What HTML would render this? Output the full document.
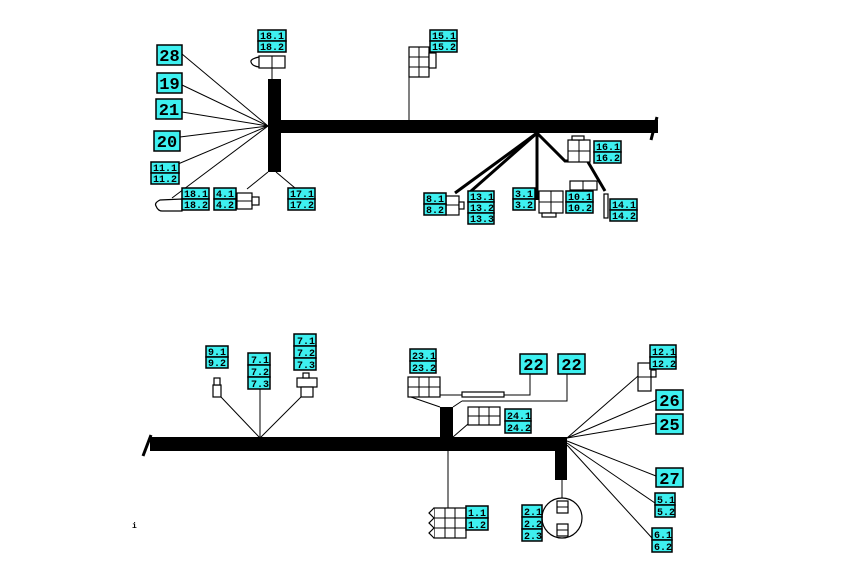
<!DOCTYPE html>
<html><head><meta charset="utf-8"><style>
body{margin:0;background:#fff}
svg text{font-family:"Liberation Mono","DejaVu Sans Mono",monospace;font-weight:bold;fill:#000}
.l{fill:#3ef0f0;stroke:#000;stroke-width:1.5}
.c{fill:#fff;stroke:#000;stroke-width:1.2}
</style></head><body>
<svg width="850" height="580" viewBox="0 0 850 580" xmlns="http://www.w3.org/2000/svg">
<defs>
<g id="d"></g>
</defs>
<!-- TOP HARNESS -->
<rect x="268" y="79" width="13" height="93" fill="#000"/>
<rect x="281" y="120" width="377" height="13" fill="#000"/>
<line x1="657" y1="117" x2="651" y2="140" stroke="#000" stroke-width="3"/>
<g stroke="#000" stroke-width="1" fill="none">
<line x1="268" y1="126" x2="182" y2="54"/>
<line x1="268" y1="126" x2="182" y2="85"/>
<line x1="268" y1="126" x2="182" y2="112"/>
<line x1="268" y1="126" x2="180" y2="137"/>
<line x1="268" y1="126" x2="178" y2="164"/>
<line x1="268" y1="126" x2="172" y2="198"/>
<line x1="272" y1="68" x2="272" y2="79"/>
<line x1="268" y1="172" x2="247" y2="189"/>
<line x1="276" y1="172" x2="295" y2="188"/>
<line x1="409" y1="77" x2="409" y2="120"/>
</g>
<g stroke="#000" stroke-width="3" fill="none">
<line x1="537" y1="133" x2="455" y2="193"/>
<line x1="537" y1="133" x2="470" y2="192"/>
<line x1="537" y1="133" x2="537" y2="200"/>
<polyline points="537,133 565,161 568,161"/>
<polyline points="588,162 605,191"/>
</g>
<!-- top connectors -->
<path d="M259,57 Q250,59 251,62 Q252,66 259,67" class="c"/>
<rect x="259" y="56" width="26" height="12" class="c"/><line x1="272" y1="56" x2="272" y2="68" stroke="#000"/>
<path d="M160,200 Q154,203 156,206 Q158,211 162,211 L182,211 L182,199 Z" class="c"/>
<rect x="237" y="193" width="15" height="16" class="c"/><line x1="237" y1="201" x2="252" y2="201" stroke="#000"/>
<rect x="252" y="197" width="7" height="8" class="c"/>
<rect x="409" y="47" width="20" height="30" class="c"/>
<path d="M419,47V77M409,57H429M409,67H429" stroke="#000"/>
<rect x="429" y="53" width="7" height="15" class="c"/>
<rect x="446" y="196" width="13" height="19" class="c"/><line x1="446" y1="205" x2="459" y2="205" stroke="#000"/>
<rect x="459" y="202" width="5" height="7" class="c"/>
<rect x="539" y="191" width="24" height="22" class="c"/><path d="M551,191V213M539,202H563" stroke="#000"/>
<rect x="542" y="213" width="14" height="4" class="c"/>
<rect x="568" y="140" width="22" height="22" class="c"/><path d="M579,140V162M568,151H590" stroke="#000"/>
<rect x="572" y="136" width="12" height="4" class="c"/>
<rect x="570" y="181" width="27" height="9" class="c"/><line x1="583" y1="181" x2="583" y2="190" stroke="#000"/>
<rect x="604" y="194" width="4" height="24" class="c"/>
<!-- top labels -->
<rect x="157" y="45" width="25" height="20" class="l"/><text x="169.5" y="61" font-size="17" text-anchor="middle">28</text>
<rect x="157" y="73" width="25" height="20" class="l"/><text x="169.5" y="89" font-size="17" text-anchor="middle">19</text>
<rect x="156" y="99" width="26" height="20" class="l"/><text x="169" y="115" font-size="17" text-anchor="middle">21</text>
<rect x="154" y="131" width="26" height="20" class="l"/><text x="167" y="147" font-size="17" text-anchor="middle">20</text>
<g font-size="10">
<rect x="151" y="162" width="28" height="11" class="l"/><rect x="151" y="173" width="28" height="11" class="l"/><text x="153" y="171">11.1</text><text x="153" y="182">11.2</text>
<rect x="258" y="30" width="28" height="11" class="l"/><rect x="258" y="41" width="28" height="11" class="l"/><text x="260" y="39">18.1</text><text x="260" y="50">18.2</text>
<rect x="182" y="188" width="27" height="11" class="l"/><rect x="182" y="199" width="27" height="11" class="l"/><text x="184" y="197">18.1</text><text x="184" y="208">18.2</text>
<rect x="214" y="188" width="22" height="11" class="l"/><rect x="214" y="199" width="22" height="11" class="l"/><text x="216" y="197">4.1</text><text x="216" y="208">4.2</text>
<rect x="288" y="188" width="27" height="11" class="l"/><rect x="288" y="199" width="27" height="11" class="l"/><text x="290" y="197">17.1</text><text x="290" y="208">17.2</text>
<rect x="430" y="30" width="27" height="11" class="l"/><rect x="430" y="41" width="27" height="11" class="l"/><text x="432" y="39">15.1</text><text x="432" y="50">15.2</text>
<rect x="424" y="193" width="22" height="11" class="l"/><rect x="424" y="204" width="22" height="11" class="l"/><text x="426" y="202">8.1</text><text x="426" y="213">8.2</text>
<rect x="468" y="191" width="26" height="11" class="l"/><rect x="468" y="202" width="26" height="11" class="l"/><rect x="468" y="213" width="26" height="11" class="l"/><text x="470" y="200">13.1</text><text x="470" y="211">13.2</text><text x="470" y="222">13.3</text>
<rect x="513" y="188" width="22" height="11" class="l"/><rect x="513" y="199" width="22" height="11" class="l"/><text x="515" y="197">3.1</text><text x="515" y="208">3.2</text>
<rect x="566" y="191" width="27" height="11" class="l"/><rect x="566" y="202" width="27" height="11" class="l"/><text x="568" y="200">10.1</text><text x="568" y="211">10.2</text>
<rect x="610" y="199" width="27" height="11" class="l"/><rect x="610" y="210" width="27" height="11" class="l"/><text x="612" y="208">14.1</text><text x="612" y="219">14.2</text>
<rect x="594" y="141" width="27" height="11" class="l"/><rect x="594" y="152" width="27" height="11" class="l"/><text x="596" y="150">16.1</text><text x="596" y="161">16.2</text>
</g>
<!-- BOTTOM HARNESS -->
<rect x="150" y="437" width="417" height="14" fill="#000"/>
<line x1="151" y1="435" x2="143" y2="456" stroke="#000" stroke-width="3"/>
<rect x="440" y="407" width="13" height="30" fill="#000"/>
<rect x="555" y="451" width="12" height="29" fill="#000"/>
<g stroke="#000" stroke-width="1" fill="none">
<line x1="260" y1="438" x2="221" y2="397"/>
<line x1="260" y1="438" x2="260" y2="389"/>
<line x1="260" y1="438" x2="302" y2="396"/>
<line x1="408" y1="396" x2="440" y2="407"/>
<line x1="462" y1="401" x2="453" y2="407"/>
<line x1="453" y1="437" x2="468" y2="424"/>
<polyline points="440,395 530,395 530,374"/>
<polyline points="462,401 567,401 567,374"/>
<line x1="448" y1="451" x2="448" y2="508"/>
<line x1="562" y1="480" x2="562" y2="498"/>
<line x1="567" y1="438" x2="638" y2="376"/>
<line x1="567" y1="438" x2="656" y2="400"/>
<line x1="567" y1="438" x2="656" y2="423"/>
<line x1="567" y1="441" x2="656" y2="476"/>
<line x1="567" y1="443" x2="655" y2="503"/>
<line x1="567" y1="445" x2="652" y2="538"/>
</g>
<rect x="462" y="392" width="42" height="5" class="c"/>
<rect x="408" y="377" width="32" height="20" class="c"/><path d="M419,377V397M429,377V397M408,387H440" stroke="#000"/>
<rect x="468" y="407" width="32" height="18" class="c"/><path d="M479,407V425M489,407V425M468,416H500" stroke="#000"/>
<rect x="434" y="508" width="32" height="30" class="c"/><path d="M445,508V538M455,508V538M434,518H466M434,528H466" stroke="#000"/>
<path d="M434,508 L429,513 L434,518 L429,523 L434,528 L429,533 L434,538" class="c"/>
<circle cx="562" cy="518" r="20" class="c"/>
<rect x="557" y="501" width="11" height="12" class="c"/><line x1="557" y1="507" x2="568" y2="507" stroke="#000"/>
<rect x="557" y="524" width="11" height="12" class="c"/><line x1="557" y1="530" x2="568" y2="530" stroke="#000"/>
<rect x="213" y="385" width="8" height="12" class="c"/><rect x="214" y="378" width="6" height="7" class="c"/>
<rect x="297" y="378" width="20" height="9" class="c"/><rect x="301" y="387" width="12" height="10" class="c"/><rect x="303" y="373" width="6" height="5" class="c"/>
<rect x="638" y="363" width="13" height="28" class="c"/><line x1="638" y1="377" x2="651" y2="377" stroke="#000"/><rect x="651" y="370" width="5" height="7" class="c"/>
<rect x="520" y="354" width="27" height="20" class="l"/><text x="533.5" y="370" font-size="17" text-anchor="middle">22</text>
<rect x="558" y="354" width="27" height="20" class="l"/><text x="571.5" y="370" font-size="17" text-anchor="middle">22</text>
<rect x="656" y="390" width="27" height="20" class="l"/><text x="669.5" y="406" font-size="17" text-anchor="middle">26</text>
<rect x="656" y="414" width="27" height="20" class="l"/><text x="669.5" y="430" font-size="17" text-anchor="middle">25</text>
<rect x="656" y="468" width="27" height="19" class="l"/><text x="669.5" y="484" font-size="17" text-anchor="middle">27</text>
<g font-size="10">
<rect x="206" y="346" width="22" height="11" class="l"/><rect x="206" y="357" width="22" height="11" class="l"/><text x="208" y="355">9.1</text><text x="208" y="366">9.2</text>
<rect x="248" y="353" width="22" height="12" class="l"/><rect x="248" y="365" width="22" height="12" class="l"/><rect x="248" y="377" width="22" height="12" class="l"/><text x="251" y="363">7.1</text><text x="251" y="375">7.2</text><text x="251" y="387">7.3</text>
<rect x="294" y="334" width="22" height="12" class="l"/><rect x="294" y="346" width="22" height="12" class="l"/><rect x="294" y="358" width="22" height="12" class="l"/><text x="297" y="344">7.1</text><text x="297" y="356">7.2</text><text x="297" y="368">7.3</text>
<rect x="410" y="349" width="26" height="12" class="l"/><rect x="410" y="361" width="26" height="12" class="l"/><text x="412" y="359">23.1</text><text x="412" y="371">23.2</text>
<rect x="505" y="409" width="26" height="12" class="l"/><rect x="505" y="421" width="26" height="12" class="l"/><text x="507" y="419">24.1</text><text x="507" y="431">24.2</text>
<rect x="650" y="345" width="26" height="12" class="l"/><rect x="650" y="357" width="26" height="12" class="l"/><text x="652" y="355">12.1</text><text x="652" y="367">12.2</text>
<rect x="655" y="493" width="20" height="12" class="l"/><rect x="655" y="505" width="20" height="12" class="l"/><text x="657" y="503">5.1</text><text x="657" y="515">5.2</text>
<rect x="652" y="528" width="20" height="12" class="l"/><rect x="652" y="540" width="20" height="12" class="l"/><text x="654" y="538">6.1</text><text x="654" y="550">6.2</text>
<rect x="466" y="506" width="22" height="12" class="l"/><rect x="466" y="518" width="22" height="12" class="l"/><text x="468" y="516">1.1</text><text x="468" y="528">1.2</text>
<rect x="522" y="505" width="20" height="12" class="l"/><rect x="522" y="517" width="20" height="12" class="l"/><rect x="522" y="529" width="20" height="12" class="l"/><text x="524" y="515">2.1</text><text x="524" y="527">2.2</text><text x="524" y="539">2.3</text>
</g>
<text x="132" y="528" font-size="8">i</text>
</svg>
</body></html>
